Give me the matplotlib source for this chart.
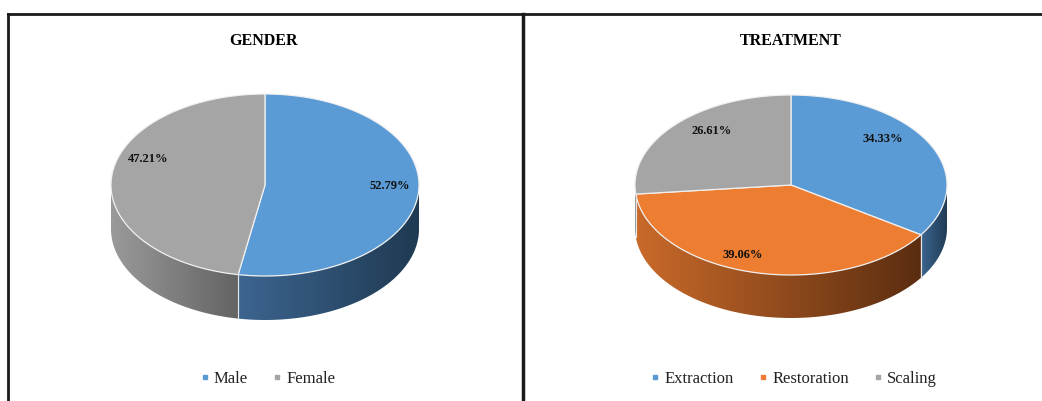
import numpy as np
import matplotlib
matplotlib.use('Agg')
import matplotlib.pyplot as plt
from matplotlib.patches import Polygon
from matplotlib.lines import Line2D
from matplotlib.colors import LinearSegmentedColormap

# data
gender_labels = ['Male', 'Female']
gender_values = [52.79, 47.21]
treat_labels = ['Extraction', 'Restoration', 'Scaling']
treat_values = [34.33, 39.06, 26.61]

# colours: top face, side light, side dark
BLUE = ('#5b9bd5', '#3d6590', '#1f3a52')
ORANGE = ('#ed7d31', '#c96a2a', '#5a2d10')
GRAY = ('#a5a5a5', '#9a9a9a', '#636363')

plt.rcParams['font.family'] = ['Liberation Serif', 'DejaVu Serif']

fig = plt.figure(figsize=(10.42, 4.01), dpi=100)
ax = fig.add_axes([0, 0, 1, 1])
ax.set_xlim(0, 1042)
ax.set_ylim(401, 0)
ax.axis('off')


def rim(cx, cy, rx, ry, th):
    # th in degrees, clockwise from 12 o'clock, y pointing down
    t = np.radians(th)
    return cx + rx * np.sin(t), cy - ry * np.cos(t)


def pie3d(cx, cy, rx, ry, depth, values, colors, offsets):
    fracs = np.array(values) / np.sum(values)
    edges = np.concatenate([[0], np.cumsum(fracs) * 360])
    # side walls (front half only)
    for i in range(len(values)):
        lo, hi = max(edges[i], 90), min(edges[i + 1], 270)
        if hi <= lo:
            continue
        th = np.linspace(lo, hi, 80)
        x, y = rim(cx, cy, rx, ry, th)
        pts = np.column_stack([np.concatenate([x, x[::-1]]),
                               np.concatenate([y, y[::-1] + depth])])
        poly = Polygon(pts, closed=True, fc='none', ec='none')
        ax.add_patch(poly)
        cmap = LinearSegmentedColormap.from_list('s', [colors[i][1], colors[i][2]])
        grad = np.linspace(0, 1, 256)[None, :]
        im = ax.imshow(grad, cmap=cmap, aspect='auto', interpolation='bilinear',
                       extent=(x.min(), x.max(), y.max() + depth, y.min()))
        im.set_clip_path(poly)
        for t in (lo, hi):
            if 90 < t < 270:
                xx, yy = rim(cx, cy, rx, ry, t)
                ax.plot([xx, xx], [yy, yy + depth], color='#e6e6e6', lw=0.8)
    # top faces
    for i in range(len(values)):
        th = np.linspace(edges[i], edges[i + 1], 120)
        x, y = rim(cx, cy, rx, ry, th)
        pts = np.column_stack([np.concatenate([[cx], x]), np.concatenate([[cy], y])])
        ax.add_patch(Polygon(pts, closed=True, fc=colors[i][0], ec='#f0f0f0', lw=0.9))
    # data labels
    for i, v in enumerate(values):
        mid = (edges[i] + edges[i + 1]) / 2
        lx, ly = rim(cx, cy, rx * 0.75, ry * 0.75, mid)
        ax.text(lx + offsets[i][0], ly + offsets[i][1], '%.2f%%' % v,
                ha='center', va='center', fontsize=9, fontweight='bold', color='#111111')
    ax.set_xlim(0, 1042)
    ax.set_ylim(401, 0)


pie3d(265, 185, 154, 91, 44, gender_values, [BLUE, GRAY], [(10, -5), (-2, -20)])
pie3d(791, 185, 156, 90, 43, treat_values, [BLUE, ORANGE, GRAY],
      [(-11, -14), (-20, 4), (7, -9)])

# titles
ax.text(264, 41, 'GENDER', ha='center', va='center', fontsize=11.5, fontweight='bold')
ax.text(791, 41, 'TREATMENT', ha='center', va='center', fontsize=11.5, fontweight='bold')

# panel borders
ax.plot([8, 1042], [14, 14], color='#1a1a1a', lw=2)
ax.plot([8, 8], [14, 401], color='#1a1a1a', lw=2)
ax.plot([523, 523], [14, 401], color='#1a1a1a', lw=2.5)


def legend(labels, colors, xc):
    handles = [Line2D([], [], ls='none', marker='s', markersize=3.5,
                      mfc=c[0], mec=c[0]) for c in colors]
    fig.legend(handles, labels, loc='center', bbox_to_anchor=(xc / 1042, 1 - 379 / 401),
               ncol=len(labels), frameon=False, fontsize=12, handlelength=0.5,
               handletextpad=0.3, columnspacing=1.5, labelcolor='#222222')


legend(gender_labels, [BLUE, GRAY], 268)
legend(treat_labels, [BLUE, ORANGE, GRAY], 794)

fig.savefig('out.png', dpi=100)
